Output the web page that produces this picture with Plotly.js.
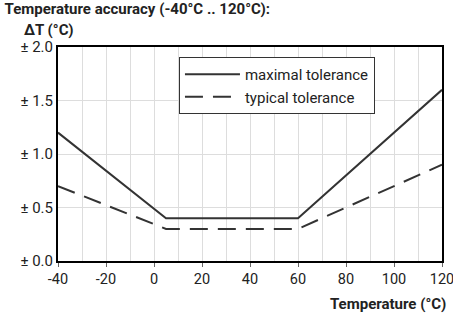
<!DOCTYPE html>
<html><head><meta charset="utf-8">
<script src="https://cdn.plot.ly/plotly-3.0.1.min.js"></script>
<style>html,body{margin:0;padding:0;background:#fff}#chart{width:453px;height:314px}</style>
</head><body><div id="chart"></div>
<script>
const temperatures = [-40, 5, 60, 120];
const maximalTolerance = [1.2, 0.4, 0.4, 1.6];
const typicalTolerance = [0.7, 0.3, 0.3, 0.9];
const xTickVals = [-40, -20, 0, 20, 40, 60, 80, 100, 120];
const xTickText = ['-40', '-20', '0', '20', '40', '60', '80', '100', '120'];
const yTickVals = [0, 0.5, 1.0, 1.5, 2.0];
const yTickText = ['± 0.0', '± 0.5', '± 1.0', '± 1.5', '± 2.0'];

const FONT = 'Roboto, "Liberation Sans", sans-serif';
const data = [
  {x: temperatures, y: maximalTolerance, mode: 'lines', name: 'maximal tolerance',
   line: {color: '#333', width: 2}},
  {x: temperatures, y: typicalTolerance, mode: 'lines', name: 'typical tolerance',
   line: {color: '#333', width: 2, dash: '18px,10px'}}
];
const layout = {
  width: 453, height: 314,
  margin: {l: 58, r: 11, t: 47, b: 53},
  paper_bgcolor: '#fff', plot_bgcolor: '#fff',
  font: {family: FONT, color: '#222', size: 15},
  title: {text: '<b>Temperature accuracy (-40°C .. 120°C):</b>', x: 0.01, xanchor: 'left',
          y: 0.99, yanchor: 'top', yref: 'container', font: {size: 15, family: FONT, color: '#222'}},
  xaxis: {range: [-40, 120], tickvals: xTickVals, ticktext: xTickText, ticks: 'outside', ticklen: 4, tickcolor: '#666',
          showgrid: false, zeroline: false, showline: true, linecolor: '#000', linewidth: 2, mirror: true,
          minor: {dtick: 10, showgrid: true, gridcolor: '#ddd', gridwidth: 1},
          ticklabeloverflow: 'allow', tickfont: {size: 14.5}},
  yaxis: {range: [0, 2], tickvals: yTickVals, ticktext: yTickText, ticks: '',
          showgrid: true, gridcolor: '#ddd', zeroline: false, showline: true, linecolor: '#000',
          linewidth: 2, mirror: true, ticklabeloverflow: 'allow', tickfont: {size: 15}},
  legend: {x: 0.315, y: 0.953, xanchor: 'left', yanchor: 'top', bgcolor: '#fff',
           bordercolor: '#333', borderwidth: 1, itemwidth: 55, font: {size: 15, family: FONT}},
  showlegend: true,
  annotations: [
    {text: '<b>ΔT (°C)</b>', xref: 'paper', yref: 'paper', x: -0.094, y: 1.079, xanchor: 'left', yanchor: 'middle',
     showarrow: false, font: {size: 15}},
    {text: '<b>Temperature (°C)</b>', xref: 'paper', yref: 'paper', x: 1.015, y: -0.2, xanchor: 'right', yanchor: 'middle',
     showarrow: false, font: {size: 15}}
  ]
};
Plotly.newPlot('chart', data, layout, {displayModeBar: false});
</script></body></html>
